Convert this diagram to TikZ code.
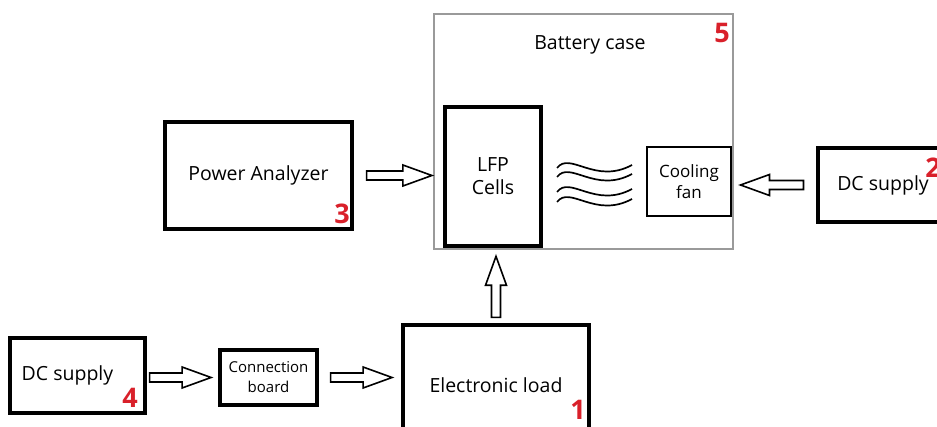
\documentclass[tikz,border=0pt]{standalone}
\usepackage{fontspec}
\setmainfont{Open Sans}
\usetikzlibrary{calc}
\definecolor{ink}{HTML}{000000}
\definecolor{tagred}{HTML}{D9202A}
\definecolor{frame}{HTML}{9A9A9A}

\begin{document}
\begin{tikzpicture}[x=1pt,y=-1pt,
  every node/.style={font=\fontsize{19.5}{23}\selectfont},
  box/.style={draw=ink,line width=3.1pt,align=center,inner sep=0pt},
  tag/.style={text=tagred,font=\fontsize{27}{27}\selectfont\bfseries,inner sep=0pt},
  hollow/.style 2 args={draw=ink,fill=white,line width=1.6pt,line join=miter,
    to path={let \p1=($(\tikztostart)!#1!(\tikztotarget)$),
                 \p2=($(\tikztotarget)!#2!(\tikztostart)$),
                 \p3=($(\p2)!29pt!(\p1)$) in
      ($(\p1)!4.5pt!90:(\p2)$) -- ($(\p3)!4.5pt!90:(\p2)$) -- ($(\p3)!10.5pt!90:(\p2)$)
      -- (\p2) -- ($(\p3)!10.5pt!-90:(\p2)$) -- ($(\p3)!4.5pt!-90:(\p2)$)
      -- ($(\p1)!4.5pt!-90:(\p2)$) -- cycle}}]
  \useasboundingbox (0,0) rectangle (937,427);
  \fill[white] (0,0) rectangle (937,427);
  % battery case and what sits inside it
  \node[draw=frame,line width=1.2pt,minimum width=299pt,minimum height=235pt] (case) at (583.5,131.5) {};
  \node (casetitle) at (590,45) {Battery case};
  \node[tag] (n5) at (722,33) {5};
  \node[box,line width=3.8pt,minimum width=96pt,minimum height=139pt] (lfp) at (493,176.5) {LFP\\Cells};
  \node[box,line width=2.2pt,minimum width=84pt,minimum height=69pt,font=\fontsize{17}{21}\selectfont] (fan) at (689,181.5) {Cooling\\fan};
  \foreach \dy in {0,9,24,34}
    \draw[line width=1.7pt] (557,168+\dy) .. controls (570,151+\dy) and (595,185+\dy) .. (632,165+\dy);
  % instruments round it
  \node[box,minimum width=187pt,minimum height=107pt] (pa) at (258.5,175.5) {Power Analyzer};
  \node[tag] (n3) at (342,214) {3};
  \node[box,minimum width=130pt,minimum height=74pt] (dc2) at (883,185) {DC supply};
  \node[tag] (n2) at (933,168) {2};
  \node[box,minimum width=186pt,minimum height=120pt] (load) at (496,385) {Electronic load};
  \node[tag] (n1) at (578,410) {1};
  \node[box,minimum width=135pt,minimum height=75pt] (dc4) at (77.5,375.5) {DC supply\hspace*{20pt}};
  \node[tag] (n4) at (130,398) {4};
  \node[box,minimum width=97pt,minimum height=55pt,font=\fontsize{15}{20}\selectfont] (board) at (268.5,377.5) {Connection\\board};
  % hollow arrows
  \draw[hollow={13pt}{1.5pt}] (pa.east) to (pa.east -| case.west);
  \draw[hollow={13pt}{8.4pt}] (dc2.west) to (dc2.west -| fan.east);
  \draw[hollow={6pt}{8.4pt}] (load.north) to (load.north |- lfp.south);
  \draw[hollow={3pt}{7.4pt}] (dc4.east |- board.west) to (board.west);
  \draw[hollow={12pt}{9.4pt}] (board.east) to (board.east -| load.west);
\end{tikzpicture}
\end{document}
